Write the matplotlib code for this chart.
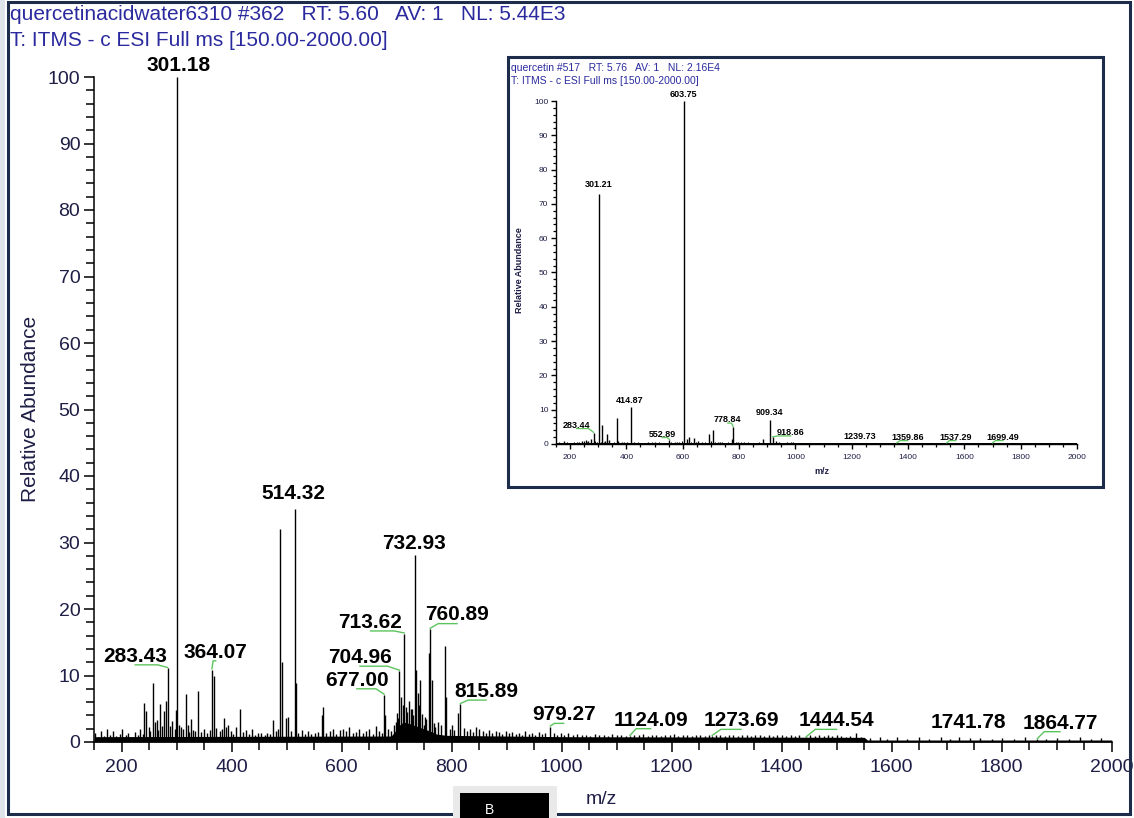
import matplotlib
matplotlib.use("Agg")
import matplotlib.pyplot as plt
from matplotlib.patches import Rectangle
from matplotlib.ticker import MultipleLocator

plt.rcParams['font.family'] = ['Liberation Sans', 'DejaVu Sans']

W, H = 1134, 818

# ---------------- data: main spectrum ----------------
header_line1 = "quercetinacidwater6310 #362   RT: 5.60   AV: 1   NL: 5.44E3"
header_line2 = "T: ITMS - c ESI Full ms [150.00-2000.00]"

main_mz = [240.6, 244.0, 257.0, 263.7, 269.7, 277.0, 280.5, 283.43, 299.5, 301.18, 304.0,
           316.0, 326.5, 339.0, 364.07, 367.5, 386.0, 393.0, 415.0, 475.0, 488.5, 491.0,
           498.0, 503.0, 514.32, 516.5, 563.5, 566.0, 602.5, 677.00, 679.0, 701.0, 704.96,
           708.0, 713.62, 716.0, 723.0, 732.93, 735.0, 738.0, 742.0, 749.6, 758.0, 760.89,
           765.0, 787.0, 790.0, 812.0, 815.89, 844.0, 979.27, 1124.09, 1273.69, 1444.54,
           1741.78, 1864.77]
main_int = [5.8, 4.6, 8.8, 3.3, 5.7, 4.7, 6.2, 11.1, 4.8, 100.0, 2.5,
            7.2, 3.5, 7.7, 10.9, 10.0, 3.6, 2.5, 4.9, 3.3, 32.0, 12.1,
            3.6, 3.7, 35.0, 8.8, 4.0, 5.2, 2.0, 7.1, 4.0, 4.4, 10.7,
            6.8, 16.3, 5.3, 6.1, 28.1, 10.9, 7.3, 9.3, 2.5, 13.4, 17.0,
            9.3, 14.5, 6.8, 4.3, 5.7, 2.3, 2.3, 0.9, 0.9, 0.7,
            0.6, 0.4]

grass_mz = [152, 157, 162, 168, 173, 179, 184, 190, 196, 201, 207, 212, 218, 224, 229, 234,
            238, 249, 252, 260, 266, 273, 288, 292, 296, 307, 311, 320, 322, 330, 334, 344,
            349, 355, 360, 372, 378, 382, 389, 398, 403, 408, 420, 426, 431, 437, 443, 448,
            454, 460, 465, 470, 480, 484, 507, 521, 527, 533, 539, 545, 551, 557, 572, 578,
            584, 590, 596, 608, 614, 620, 626, 632, 638, 644, 650, 656, 662, 668, 673, 684,
            690, 695, 698, 703, 711, 719, 726, 728, 730, 740, 746, 752, 754, 768,
            770, 775, 780, 796, 800, 805, 822, 828, 833, 838, 850,
            856, 862, 868, 874, 880, 886, 892, 898, 904, 910, 916, 922, 928, 934, 940, 946,
            952, 958, 964, 970, 986, 992, 998, 1005, 1012, 1020, 1028, 1036, 1044, 1052,
            1060, 1068, 1076, 1084, 1092, 1100, 1108, 1116, 1132, 1140, 1148, 1156, 1164,
            1172, 1180, 1188, 1196, 1204, 1212, 1220, 1228, 1236, 1244, 1252, 1260, 1268,
            1280, 1288, 1296, 1304, 1312, 1320, 1328, 1336, 1344, 1352, 1360, 1368, 1376,
            1384, 1392, 1400, 1408, 1416, 1424, 1432, 1452, 1460, 1468, 1476, 1484, 1492,
            1500, 1508, 1516, 1524, 1535, 1545, 1560, 1578, 1592, 1610, 1628, 1650, 1668,
            1690, 1706, 1722, 1760, 1782, 1800, 1822, 1842, 1880, 1900, 1922, 1942, 1962, 1980]
grass_int = [1.3, 0.8, 1.6, 0.9, 1.9, 1.1, 1.7, 0.9, 1.2, 1.9, 1.0, 1.4, 0.8, 1.5, 1.1, 2.0,
             1.2, 2.2, 1.6, 3.0, 1.8, 2.4, 2.4, 3.2, 2.0, 2.2, 1.9, 2.6, 1.5, 1.8, 1.6, 1.5,
             2.0, 1.4, 1.8, 2.1, 1.6, 2.0, 2.3, 1.6, 1.2, 2.3, 1.5, 1.8, 1.2, 1.9, 1.0, 1.4,
             1.3, 1.1, 1.4, 1.2, 1.6, 2.0, 1.7, 1.4, 1.8, 1.2, 1.6, 1.2, 1.4, 1.5, 1.3, 1.6,
             1.9, 1.2, 1.8, 1.7, 2.2, 1.4, 1.5, 1.9, 1.3, 1.6, 2.0, 1.2, 2.4, 1.6, 1.3, 2.0,
             1.6, 2.6, 3.0, 3.6, 5.5, 4.5, 5.0, 5.0, 4.0, 5.5, 4.2, 3.8, 3.5, 2.8,
             2.2, 3.0, 2.5, 2.0, 2.6, 1.8, 2.1, 1.7, 2.0, 1.5, 1.9,
             1.6, 1.4, 1.8, 1.3, 1.6, 1.5, 1.2, 1.7, 1.3, 1.5, 1.2, 1.4, 1.1, 1.6, 1.2, 1.3,
             1.1, 1.5, 1.2, 1.4, 1.3, 1.1, 1.4, 1.0, 1.3, 1.0, 1.2, 1.0, 1.1, 0.9,
             1.2, 1.0, 1.1, 0.9, 1.2, 1.0, 1.1, 0.9, 1.1, 1.0, 1.2, 0.9, 1.1,
             1.0, 0.9, 1.1, 1.0, 1.2, 0.9, 1.0, 1.1, 0.9, 1.0, 1.1, 0.9, 1.0,
             1.1, 1.0, 0.9, 1.1, 1.0, 0.9, 1.0, 1.1, 0.9, 1.0, 1.1, 0.9, 1.0,
             0.9, 1.1, 1.0, 0.9, 1.0, 0.9, 1.0, 1.0, 0.9, 1.0, 0.9, 1.0, 0.9,
             1.0, 0.9, 0.8, 0.9, 1.3, 0.8, 0.6, 0.7, 0.5, 0.7, 0.5, 0.8, 0.5,
             0.7, 0.5, 0.8, 0.6, 0.5, 0.6, 0.5, 0.7, 0.5, 0.6, 0.5, 0.8, 0.5, 0.6]

base_mz = [150, 690, 697, 703, 712, 722, 732, 742, 752, 762, 772, 790, 1000, 1550, 1556, 2000]
base_lvl = [0.8, 0.9, 1.6, 2.4, 3.0, 2.8, 2.5, 2.2, 1.9, 1.6, 1.2, 1.0, 0.8, 0.7, 0.3, 0.3]

main_labels = ["301.18", "283.43", "364.07", "514.32", "732.93", "713.62", "704.96", "677.00",
               "760.89", "815.89", "979.27", "1124.09", "1273.69", "1444.54", "1741.78", "1864.77"]
main_label_peak = [301.18, 283.43, 364.07, 514.32, 732.93, 713.62, 704.96, 677.00,
                   760.89, 815.89, 979.27, 1124.09, 1273.69, 1444.54, 1741.78, 1864.77]
main_label_height = [100.0, 11.1, 10.9, 35.0, 28.1, 16.3, 10.7, 7.1,
                     17.0, 5.7, 2.3, 0.9, 0.9, 0.7, 0.6, 0.4]

# ---------------- data: inset spectrum ----------------
inset_line1 = "quercetin #517   RT: 5.76   AV: 1   NL: 2.16E4"
inset_line2 = "T: ITMS - c ESI Full ms [150.00-2000.00]"

inset_mz = [179.5, 223, 241, 255, 265, 274, 283.44, 301.21, 314.5, 324, 332, 339, 365.4, 371,
            383, 401, 414.87, 426, 475, 501, 552.89, 572, 588, 603.75, 614, 622, 641, 655,
            693, 707, 726, 732, 774, 778.84, 797, 818, 886, 909.34, 918.86, 930, 942, 969, 984,
            1239.73, 1359.86, 1537.29, 1699.49]
inset_int = [1.0, 0.5, 1.0, 1.2, 1.0, 1.5, 3.3, 73.0, 5.5, 1.0, 2.9, 1.2, 7.7, 1.0,
             0.5, 0.5, 10.9, 0.5, 0.5, 0.5, 1.2, 0.5, 0.5, 100.0, 1.5, 2.0, 1.8, 1.0,
             2.9, 4.0, 0.5, 0.5, 1.5, 5.0, 0.5, 0.5, 1.4, 7.0, 2.0, 1.0, 0.5, 0.5, 0.5,
             0.3, 0.2, 0.2, 0.2]

inset_grass_mz = [160, 190, 205, 215, 230, 248, 260, 290, 296, 310, 320, 345, 355, 390, 410,
                  440, 460, 490, 515, 530, 560, 580, 598, 630, 648, 668, 680, 700, 715, 740,
                  760, 790, 808, 830, 850, 870, 895, 950, 990, 1060, 1120, 1180, 1300, 1450,
                  1620, 1800, 1900]
inset_grass_int = [0.5, 0.6, 0.4, 0.7, 0.5, 0.9, 0.6, 0.8, 0.7, 0.6, 0.5, 0.4, 0.6, 0.5, 0.4,
                   0.5, 0.4, 0.6, 0.5, 0.4, 0.5, 0.6, 0.8, 0.5, 0.7, 0.6, 0.5, 0.8, 0.6, 0.5,
                   0.6, 0.5, 0.7, 0.5, 0.4, 0.5, 0.4, 0.4, 0.5, 0.3, 0.3, 0.3, 0.3, 0.3,
                   0.3, 0.3, 0.3]

inset_labels = ["603.75", "301.21", "283.44", "414.87", "552.89", "778.84", "909.34",
                "918.86", "1239.73", "1359.86", "1537.29", "1699.49"]
inset_label_peak = [603.75, 301.21, 283.44, 414.87, 552.89, 778.84, 909.34,
                    918.86, 1239.73, 1359.86, 1537.29, 1699.49]
inset_label_height = [100.0, 73.0, 3.3, 10.9, 1.2, 5.0, 7.0, 2.0, 0.3, 0.2, 0.2, 0.2]

# ---------------- layout (offsets of labels from their peaks) ----------------
main_label_dx = [1.3, -58.9, 6.9, -1.6, -0.9, -61.3, -71.8, -49.4, 48.6, 46.5, 24.3, 37.5,
                 52.3, 55.3, -2.8, 41.2]
main_label_dy = [1.8, 1.8, 2.6, 2.4, 1.7, 1.7, 2.0, 2.2, 2.1, 1.9, 1.8, 2.4, 2.3, 2.5, 2.4, 2.45]
main_leader = [False, True, True, False, False, True, True, True, True, True, True, True,
               True, True, False, True]

inset_label_dx = [-1.75, 0.4, -60, -2.2, -26.6, -18.9, 0.4, 64, -11.7, 39, 32, 38]
inset_label_dy = [2.0, 2.7, 2.2, 1.9, 1.7, 2.1, 2.2, 1.35, 2.0, 1.8, 1.8, 1.8]
inset_leader = [False, False, True, False, True, True, False, True, False, True, True, True]

GREEN = '#5cc45c'
NAVY = '#1e2c4c'
HEAD = '#2a2a9e'
TICKC = '#1e1e46'


def fx(px):
    return px / W


def fy(py):
    return 1 - py / H


fig = plt.figure(figsize=(W / 100, H / 100), dpi=100)
fig.patch.set_facecolor('white')

# outer frame
fig.add_artist(Rectangle((0, 0), fx(5), 1, transform=fig.transFigure,
                         facecolor='#dfe3ea', edgecolor='none', zorder=-2))
fig.add_artist(Rectangle((fx(7.5), fy(814)), fx(1130) - fx(7.5), fy(1.5) - fy(814),
                         transform=fig.transFigure, facecolor='none', edgecolor=NAVY,
                         lw=2.2, zorder=5))

# header
fig.text(fx(10), fy(15), header_line1, fontsize=15, color=HEAD, ha='left', va='center')
fig.text(fx(10), fy(40), header_line2, fontsize=15, color=HEAD, ha='left', va='center')

# ---------------- main axes ----------------
ax = fig.add_axes([fx(94.2), fy(742), fx(1111.7) - fx(94.2), fy(77) - fy(742)])
ax.set_xlim(150, 2000)
ax.set_ylim(0, 100)
ax.fill_between(base_mz, 0, base_lvl, color='black', lw=0)
ax.vlines(grass_mz, 0, grass_int, color='black', lw=1.0)
ax.vlines(main_mz, 0, main_int, color='black', lw=1.0)

for t, pk, h, dx, dy, ld in zip(main_labels, main_label_peak, main_label_height,
                                main_label_dx, main_label_dy, main_leader):
    lx, ly = pk + dx, h + dy
    ax.text(lx, ly, t, fontsize=15, fontweight='bold', ha='center', va='center',
            color='black', clip_on=False)
    if ld:
        yb = ly - 1.3
        ax.plot([pk, pk + 0.3 * (lx - pk), lx], [h + 0.1, yb, yb], color=GREEN,
                lw=1.0, clip_on=False)

for s in ['top', 'right']:
    ax.spines[s].set_visible(False)
for s in ['left', 'bottom']:
    ax.spines[s].set_linewidth(1.1)
ax.xaxis.set_major_locator(MultipleLocator(200))
ax.xaxis.set_minor_locator(MultipleLocator(50))
ax.yaxis.set_major_locator(MultipleLocator(10))
ax.yaxis.set_minor_locator(MultipleLocator(2))
ax.tick_params(which='major', length=7, width=1.1, direction='out', labelsize=14,
               labelcolor=TICKC, pad=3)
ax.tick_params(which='minor', length=5.5, width=1.1, direction='out')
ax.tick_params(axis='x', which='major', pad=5)

fig.text(fx(31), fy(409), 'Relative Abundance', rotation=90, fontsize=15,
         color=TICKC, ha='center', va='center')
fig.text(fx(601), fy(800), 'm/z', fontsize=14, color=TICKC, ha='center', va='center')

# ---------------- inset ----------------
fig.add_artist(Rectangle((fx(508), fy(487)), fx(1103) - fx(508), fy(57) - fy(487),
                         transform=fig.transFigure, facecolor='white', edgecolor=NAVY,
                         lw=2.2, zorder=1))
fig.text(fx(511), fy(68), inset_line1, fontsize=7.5, color=HEAD, ha='left', va='center',
         zorder=3)
fig.text(fx(511), fy(80.5), inset_line2, fontsize=7.5, color=HEAD, ha='left', va='center',
         zorder=3)

ax2 = fig.add_axes([fx(556), fy(444), fx(1077) - fx(556), fy(101) - fy(444)], zorder=2)
ax2.patch.set_alpha(0)
ax2.set_xlim(150, 2000)
ax2.set_ylim(0, 100)
ax2.fill_between([150, 2000], 0, [0.3, 0.3], color='black', lw=0)
ax2.vlines(inset_grass_mz, 0, inset_grass_int, color='black', lw=0.8)
ax2.vlines(inset_mz, 0, inset_int, color='black', lw=1.0)
for t, pk, h, dx, dy, ld in zip(inset_labels, inset_label_peak, inset_label_height,
                                inset_label_dx, inset_label_dy, inset_leader):
    lx, ly = pk + dx, h + dy
    ax2.text(lx, ly, t, fontsize=6.5, fontweight='bold', ha='center', va='center',
             color='black', clip_on=False)
    if ld:
        yb = ly - 1.0
        ax2.plot([pk, pk + 0.3 * (lx - pk), lx], [h + 0.1, yb, yb], color=GREEN,
                 lw=0.9, clip_on=False)
for s in ['top', 'right']:
    ax2.spines[s].set_visible(False)
for s in ['left', 'bottom']:
    ax2.spines[s].set_linewidth(1.0)
ax2.xaxis.set_major_locator(MultipleLocator(200))
ax2.xaxis.set_minor_locator(MultipleLocator(50))
ax2.yaxis.set_major_locator(MultipleLocator(10))
ax2.yaxis.set_minor_locator(MultipleLocator(2))
ax2.tick_params(which='major', length=3.5, width=1.0, direction='out', labelsize=6,
                labelcolor=TICKC, pad=2)
ax2.tick_params(which='minor', length=2.5, width=0.9, direction='out')
ax2.tick_params(axis='x', which='major', pad=4)
fig.text(fx(520), fy(270), 'Relative Abundance', rotation=90, fontsize=6.5,
         fontweight='bold', color=TICKC, ha='center', va='center', zorder=3)
fig.text(fx(822), fy(472), 'm/z', fontsize=6.5, fontweight='bold', color=TICKC,
         ha='center', va='center', zorder=3)

# bottom "B" tab
fig.add_artist(Rectangle((fx(453), fy(818)), fx(557) - fx(453), fy(786) - fy(818),
                         transform=fig.transFigure, facecolor='#e9e9e9',
                         edgecolor='none', zorder=6))
fig.add_artist(Rectangle((fx(460), fy(818)), fx(549) - fx(460), fy(793) - fy(818),
                         transform=fig.transFigure, facecolor='black',
                         edgecolor='none', zorder=7))
fig.text(fx(489), fy(803), 'B', fontsize=10, color='white', ha='center', va='top',
         zorder=8)

fig.savefig('out.png', dpi=100)
